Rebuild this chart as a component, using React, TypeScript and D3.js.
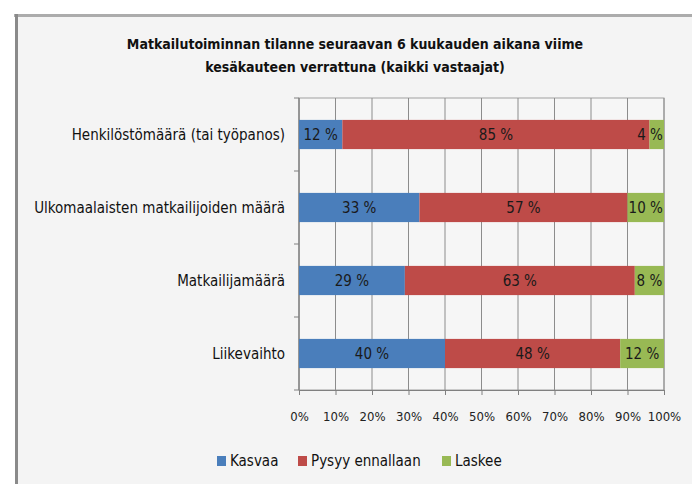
import React, { useEffect, useRef } from 'react';
import * as d3 from 'd3';

const categories = [
  'Henkilöstömäärä (tai työpanos)',
  'Ulkomaalaisten matkailijoiden määrä',
  'Matkailijamäärä',
  'Liikevaihto',
];
const seriesNames = ['Kasvaa', 'Pysyy ennallaan', 'Laskee'];
const kasvaa = [12, 33, 29, 40];
const pysyy = [85, 57, 63, 48];
const laskee = [4, 10, 8, 12];
const xTicks = [0, 10, 20, 30, 40, 50, 60, 70, 80, 90, 100];
const titleLines = [
  'Matkailutoiminnan tilanne seuraavan 6 kuukauden aikana viime',
  'kesäkauteen verrattuna (kaikki vastaajat)',
];

const colors = ['#4a7ebb', '#be4b48', '#98b954'];
const font = "'Liberation Sans Narrow', 'DejaVu Sans Condensed', 'Roboto', sans-serif";

const App = () => {
  const ref = useRef<SVGSVGElement>(null);

  useEffect(() => {
    const W = 696;
    const H = 484;
    const margin = { top: 98, right: 32, bottom: 94, left: 299 };
    const width = W - margin.left - margin.right;
    const height = H - margin.top - margin.bottom;

    const svg = d3.select(ref.current);
    svg.selectAll('*').remove();

    // frame
    svg.append('rect').attr('width', W).attr('height', H).attr('fill', '#ffffff');
    svg.append('rect').attr('x', 16).attr('y', 14).attr('width', W - 20).attr('height', H - 14).attr('fill', '#f4f4f4');
    svg.append('rect').attr('x', 14).attr('y', 14).attr('width', W - 18).attr('height', 3).attr('fill', '#9a9a9a').attr('opacity', 0.8);
    svg.append('rect').attr('x', 15).attr('y', 14).attr('width', 3).attr('height', H - 14).attr('fill', '#8a8a8a');

    // title
    svg
      .append('g')
      .selectAll('text')
      .data(titleLines)
      .enter()
      .append('text')
      .attr('x', 355)
      .attr('y', (d, i) => 49 + i * 23)
      .attr('text-anchor', 'middle')
      .style('font-family', font)
      .style('font-weight', 'bold')
      .style('font-size', '14px')
      .style('fill', '#111')
      .text(d => d);

    const g = svg.append('g').attr('transform', 'translate(' + margin.left + ',' + margin.top + ')');

    const x = d3.scaleLinear().domain([0, 1]).range([0, width]);
    const y = d3.scaleBand().domain(categories).range([0, height]).paddingInner(0.6).paddingOuter(0.3);

    // plot border + grid
    g.append('rect').attr('width', width).attr('height', height).attr('fill', '#f6f6f6').attr('stroke', '#a0a0a0');
    g.append('g')
      .selectAll('line')
      .data(xTicks)
      .enter()
      .append('line')
      .attr('x1', d => x(d / 100))
      .attr('x2', d => x(d / 100))
      .attr('y1', 0)
      .attr('y2', height)
      .attr('stroke', '#8c8c8c');

    // x-axis
    const xAxis = g
      .append('g')
      .attr('transform', 'translate(0,' + height + ')')
      .call(
        d3
          .axisBottom(x)
          .tickValues(xTicks.map(t => t / 100))
          .tickSize(5)
          .tickPadding(17)
          .tickFormat(d => Math.round(+d * 100) + '%')
      );
    xAxis.select('.domain').attr('stroke', '#808080');
    xAxis.selectAll('.tick line').attr('stroke', '#808080');
    xAxis.selectAll('text').style('font-family', font).style('font-size', '13px').style('fill', '#222');

    // y-axis
    const bandStep = height / categories.length;
    const yAxis = g.append('g');
    yAxis.append('line').attr('x1', 0).attr('x2', 0).attr('y1', 0).attr('y2', height).attr('stroke', '#808080');
    yAxis
      .selectAll('.ytick')
      .data(d3.range(categories.length + 1))
      .enter()
      .append('line')
      .attr('x1', -5)
      .attr('x2', 0)
      .attr('y1', d => d * bandStep)
      .attr('y2', d => d * bandStep)
      .attr('stroke', '#808080');
    yAxis
      .selectAll('text')
      .data(categories)
      .enter()
      .append('text')
      .attr('x', -14)
      .attr('y', d => (y(d) as number) + y.bandwidth() / 2)
      .attr('dy', '0.35em')
      .attr('text-anchor', 'end')
      .style('font-family', font)
      .style('font-size', '15px')
      .style('fill', '#111')
      .text(d => d);

    // stacked bars, 100% stacked like the original (rows normalised to their total)
    const rows = categories.map((c, i) => ({ cat: c, k: kasvaa[i], p: pysyy[i], l: laskee[i] }));
    const stack = d3.stack<any>().keys(['k', 'p', 'l']).offset(d3.stackOffsetExpand)(rows);
    const layers = g
      .append('g')
      .selectAll('g')
      .data(stack)
      .enter()
      .append('g')
      .attr('fill', (d, i) => colors[i]);
    layers
      .selectAll('rect')
      .data(d => d)
      .enter()
      .append('rect')
      .attr('x', d => x(d[0]))
      .attr('width', d => x(d[1]) - x(d[0]))
      .attr('y', d => y(d.data.cat) as number)
      .attr('height', y.bandwidth());
    layers
      .selectAll('text')
      .data(d => d.map(v => ({ v, key: d.key as string })))
      .enter()
      .append('text')
      .attr('x', d => {
        const c = x((d.v[0] + d.v[1]) / 2);
        return d.key === 'l' ? Math.min(c, width - 14) : c;
      })
      .attr('y', d => (y(d.v.data.cat) as number) + y.bandwidth() / 2)
      .attr('dy', '0.36em')
      .attr('text-anchor', 'middle')
      .style('font-family', font)
      .style('font-size', '15px')
      .style('fill', '#1a1a1a')
      .text(d => d.v.data[d.key] + ' %');

    // legend
    const legendX = [217, 298, 442];
    const legend = svg
      .append('g')
      .selectAll('g')
      .data(seriesNames)
      .enter()
      .append('g')
      .attr('transform', (d, i) => 'translate(' + legendX[i] + ',456)');
    legend.append('rect').attr('width', 9).attr('height', 10).attr('fill', (d, i) => colors[i]);
    legend
      .append('text')
      .attr('x', 13)
      .attr('y', 5)
      .attr('dy', '0.36em')
      .style('font-family', font)
      .style('font-size', '15px')
      .style('fill', '#111')
      .text(d => d);
  }, []);

  return <svg ref={ref} width={696} height={484} style={{ position: 'absolute', left: 0, top: 0 }} />;
};

export default App;
